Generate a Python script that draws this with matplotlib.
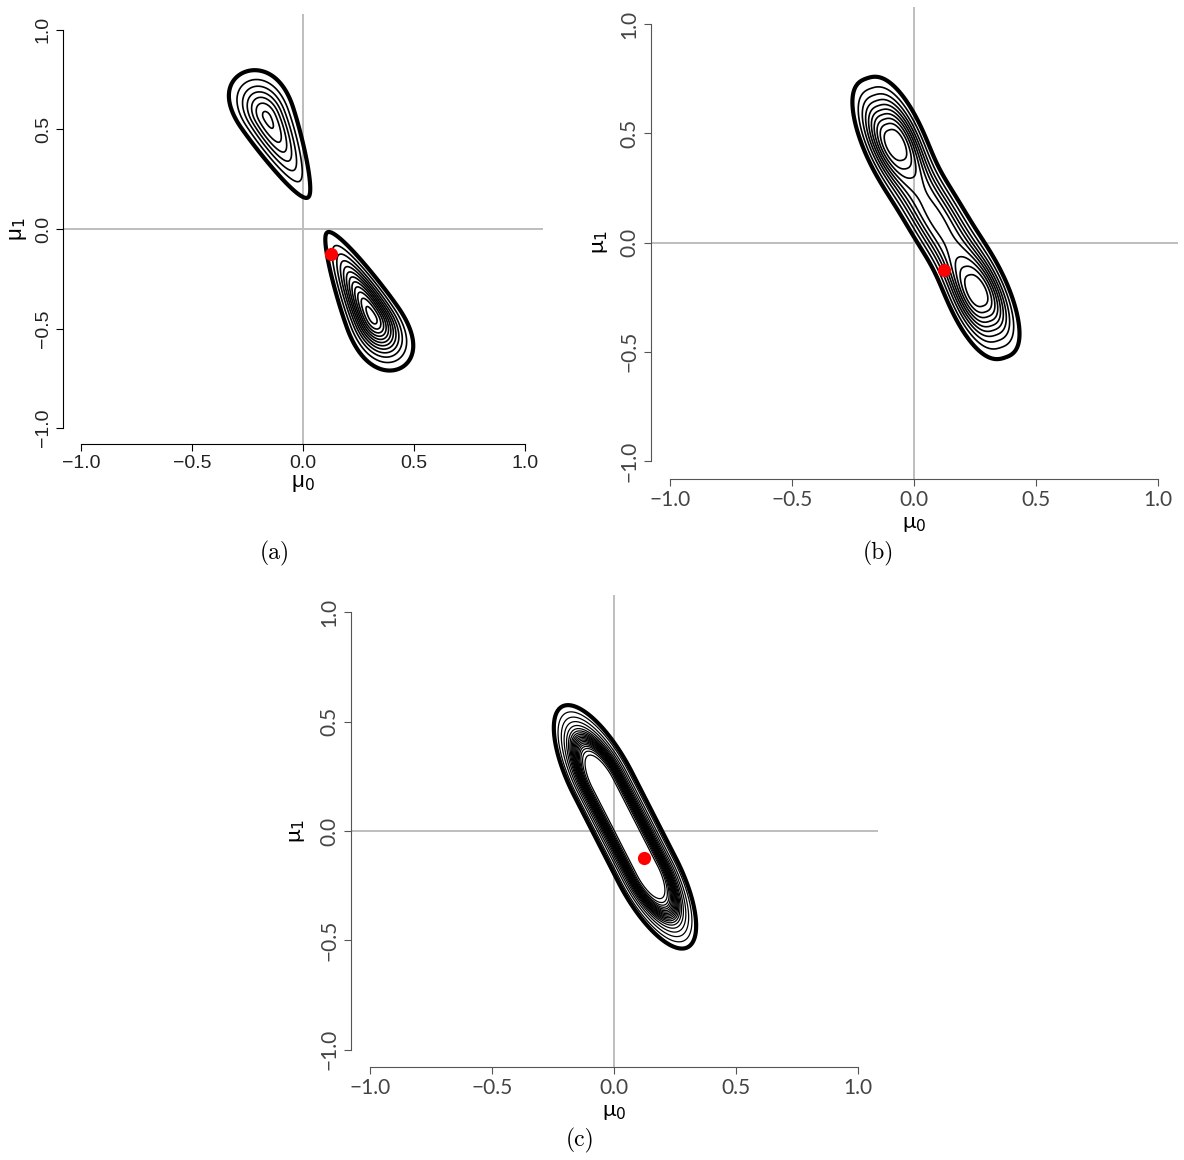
import numpy as np
import matplotlib
matplotlib.use("Agg")
import matplotlib.pyplot as plt

# ---------------- data ----------------
TICKS = [-1.0, -0.5, 0.0, 0.5, 1.0]
TICK_LABELS = ["\u22121.0", "\u22120.5", "0.0", "0.5", "1.0"]
LIMITS = (-1.08, 1.08)
TRUE_MU0 = 0.125
TRUE_MU1 = -0.125

# panel (a): two teardrop modes (centre, tip direction deg, sd back, sd tip, sd width, narrowing, height)
A_CENTRES = [(-0.161, 0.559), (0.312, -0.443)]
A_ANGLES = [-65.9, 115.0]
A_SD_BACK = [0.126, 0.127]
A_SD_TIP = [0.218, 0.206]
A_SD_WIDTH = [0.064, 0.056]
A_NARROW = [1.1, 1.0]
A_HEIGHT = [0.58, 1.0]
A_LEVELS = [0.08, 0.16, 0.24, 0.32, 0.40, 0.48, 0.56, 0.64, 0.72, 0.80, 0.88, 0.96]

# panel (b): ridge with two modes (components)
B_CENTRES = [(-0.085, 0.47), (0.09, 0.11), (0.265, -0.245)]
B_ANGLES = [-69.0, -63.0, -69.0]
B_SD_MAJOR = [0.14, 0.20, 0.14]
B_SD_MINOR = [0.07, 0.07, 0.07]
B_WEIGHTS = [1.0, 0.70, 1.0]
B_POWER = 2.6
B_LEVELS = [0.1, 0.2, 0.3, 0.4, 0.5, 0.6, 0.7, 0.8, 0.9, 1.0]

# panel (c): elongated ridge = broad base + flat-topped core (stadium-shaped)
C_CENTRE = (0.045, 0.019)
C_ANGLE = -65.4
C_FLAT_HALF = 0.218
C_END_STRETCH = 3.0
C_BASE_WEIGHT = 0.45
C_BASE_WIDTH = 0.1068
C_BASE_POWER = 4.0
C_CORE_WEIGHT = 0.55
C_CORE_WIDTH = 0.075
C_CORE_POWER = 6.0
C_LEVELS = [0.05, 0.097, 0.145, 0.192, 0.239, 0.287, 0.334, 0.382, 0.429, 0.476,
            0.524, 0.571, 0.618, 0.666, 0.713, 0.761, 0.808, 0.855, 0.903, 0.95]

CAPTIONS = ["(a)", "(b)", "(c)"]

# ---------------- densities ----------------
g = np.linspace(LIMITS[0], LIMITS[1], 900)
X, Y = np.meshgrid(g, g)


def rot(cx, cy, ang):
    t = np.deg2rad(ang)
    dx, dy = X - cx, Y - cy
    u = dx * np.cos(t) + dy * np.sin(t)
    v = -dx * np.sin(t) + dy * np.cos(t)
    return u, v


Za = np.zeros_like(X)
for (cx, cy), ang, sb, st, sw, k, h in zip(A_CENTRES, A_ANGLES, A_SD_BACK, A_SD_TIP,
                                          A_SD_WIDTH, A_NARROW, A_HEIGHT):
    u, v = rot(cx, cy, ang)
    su = np.where(u > 0, st, sb)
    sv = sw * np.exp(-k * u)
    Za += h * np.exp(-0.5 * (u / su) ** 2 - 0.5 * (v / sv) ** 2)

Zb = np.zeros_like(X)
for (cx, cy), ang, s1, s2, w in zip(B_CENTRES, B_ANGLES, B_SD_MAJOR, B_SD_MINOR, B_WEIGHTS):
    u, v = rot(cx, cy, ang)
    Zb += w * np.exp(-0.5 * (u / s1) ** 2 - 0.5 * np.abs(v / s2) ** B_POWER)

u, v = rot(C_CENTRE[0], C_CENTRE[1], C_ANGLE)
du = np.maximum(np.abs(u) - C_FLAT_HALF, 0) / C_END_STRETCH
d = np.sqrt(du ** 2 + v ** 2)
Zc = (C_BASE_WEIGHT * np.exp(-(d / C_BASE_WIDTH) ** C_BASE_POWER)
      + C_CORE_WEIGHT * np.exp(-(d / C_CORE_WIDTH) ** C_CORE_POWER))

# ---------------- figure ----------------
W, H = 1184, 1160
fig = plt.figure(figsize=(W / 100, H / 100), dpi=100)


def px_rect(l, r, t, b):
    return [l / W, 1 - b / H, (r - l) / W, (b - t) / H]


panels = [
    dict(rect=px_rect(63, 543, 14, 444), Z=Za, levels=A_LEVELS, lw=1.2,
         font=["Liberation Sans", "DejaVu Sans"], size=14, spine="black", tcol="#222222",
         xpad=1, ypad=4, cap=(275, 553)),
    dict(rect=px_rect(650.5, 1177.5, 6.5, 478.5), Z=Zb, levels=B_LEVELS, lw=1.2,
         font=["Lato", "DejaVu Sans"], size=15, spine="#555555", tcol="#444444",
         xpad=3, ypad=7, cap=(878, 553)),
    dict(rect=px_rect(350.5, 877.5, 595, 1067), Z=Zc, levels=C_LEVELS, lw=0.9,
         font=["Lato", "DejaVu Sans"], size=15, spine="#555555", tcol="#444444",
         xpad=3, ypad=9, cap=(580, 1140)),
]

for p, cap in zip(panels, CAPTIONS):
    ax = fig.add_axes(p["rect"])
    ax.set_xlim(*LIMITS)
    ax.set_ylim(*LIMITS)
    ax.axhline(0, color="#bebebe", lw=1.4, zorder=1)
    ax.axvline(0, color="#bebebe", lw=1.4, zorder=1)
    lws = [3.0] + [p["lw"]] * (len(p["levels"]) - 1)
    ax.contour(X, Y, p["Z"], levels=p["levels"], colors="black", linewidths=lws, zorder=2)
    ax.plot([TRUE_MU0], [TRUE_MU1], "o", color="#ff0000", ms=9.5, mec="none", zorder=5)

    for s in ["top", "right"]:
        ax.spines[s].set_visible(False)
    for s in ["left", "bottom"]:
        ax.spines[s].set_bounds(-1, 1)
        ax.spines[s].set_color(p["spine"])
        ax.spines[s].set_linewidth(0.8)
    ax.set_xticks(TICKS)
    ax.set_yticks(TICKS)
    fp = dict(family=p["font"], size=p["size"], color=p["tcol"])
    ax.set_xticklabels(TICK_LABELS, fontdict=fp)
    ax.set_yticklabels(TICK_LABELS, fontdict=fp, rotation=90, va="center")
    ax.tick_params(direction="out", length=5, width=0.8, color=p["spine"], pad=3)
    ax.set_xlabel("\u03bc$_0$", fontsize=16, family=p["font"], labelpad=p["xpad"])
    ax.set_ylabel("\u03bc$_1$", fontsize=16, family=p["font"], labelpad=p["ypad"])
    ax.patch.set_alpha(0)

    cx, cy = p["cap"]
    fig.text(cx / W, 1 - cy / H, cap, family="cmr10", fontsize=17, ha="center", va="center")

fig.savefig("out.png", dpi=100)
